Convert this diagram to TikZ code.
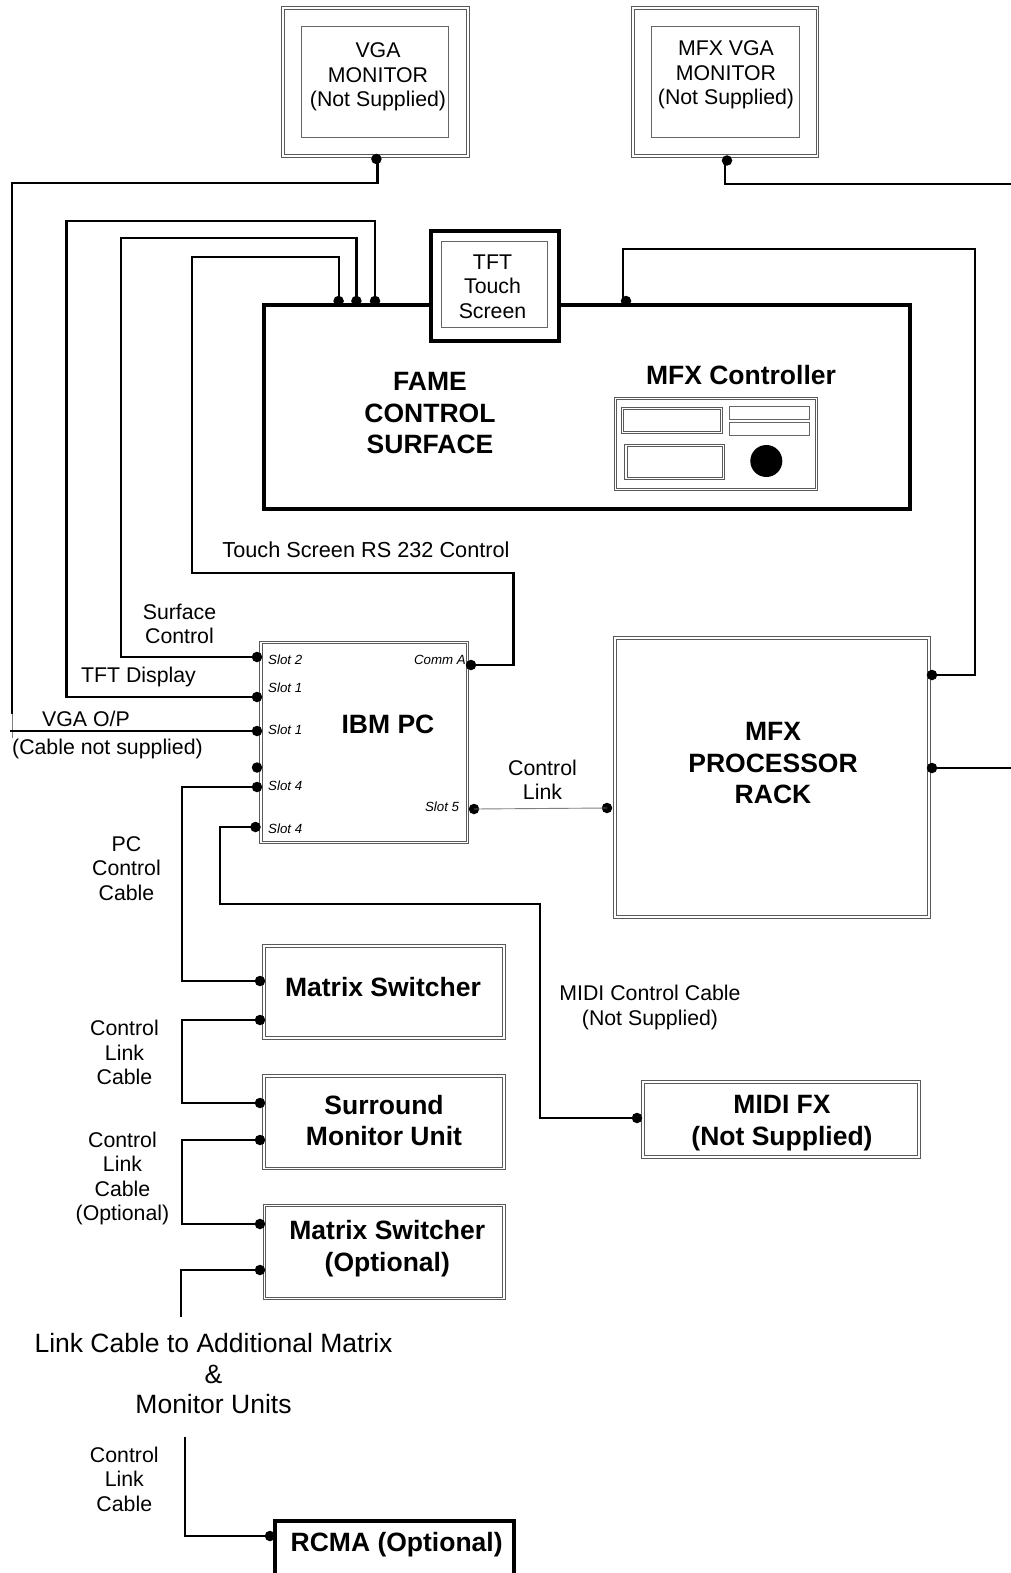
\documentclass[tikz,border=0pt]{standalone}
\usepackage{fontspec}
\setmainfont{Liberation Sans}
\usepackage{tikz}
\begin{document}
\begin{tikzpicture}[x=1pt, y=-1pt,
  dblbox/.style={rectangle, outer sep=0pt, inner sep=0pt,
    append after command={\pgfextra{\let\lastbox\tikzlastnode
      \draw[draw=black!65, line width=0.9pt]
        ([shift={(-#1,-#1)}]\lastbox.south west) rectangle ([shift={(#1,#1)}]\lastbox.north east)
        ([shift={(#1,#1)}]\lastbox.south west) rectangle ([shift={(-#1,-#1)}]\lastbox.north east);}}},
  dbl/.style={dblbox=1.4pt},
  dblthin/.style={dblbox=1.1pt},
  thin box/.style={rectangle, draw=black!60, line width=0.9pt, outer sep=0pt, inner sep=0pt},
  heavy/.style={rectangle, draw=black, fill=white, line width=4pt, outer sep=0pt, inner sep=0pt},
  lbl/.style={align=center, inner sep=0pt, font=\fontsize{21.3}{24.5}\selectfont},
  big/.style={align=center, inner sep=0pt, font=\fontsize{26.5}{31.5}\selectfont\bfseries},
  slotlbl/.style={inner sep=0pt, font=\fontsize{13.3}{15}\selectfont\itshape},
  jack/.style={circle, fill=black, minimum size=10.5pt, inner sep=0pt, outer sep=0pt},
  cable/.style={draw=black, line width=2.2pt, line join=miter},
  fine/.style={draw=black, line width=1.8pt},
  ctl/.style={draw=black!50, line width=0.9pt},
]
  \clip (0,0) rectangle (1011,1573);

  % Monitors
  \node[dbl, minimum width=184.3pt, minimum height=148.4pt] (mon1) at (375.4,82) {};
  \node[thin box, minimum width=147.2pt, minimum height=111pt] (mon1in) at (375,81.5) {};
  \node[lbl] (mon1t) at (378,77) {VGA\\MONITOR\\(Not Supplied)};
  \node[dbl, minimum width=184.4pt, minimum height=148.4pt] (mon2) at (725.3,82) {};
  \node[thin box, minimum width=147.6pt, minimum height=111pt] (mon2in) at (725.5,81.5) {};
  \node[lbl] (mon2t) at (726,75) {MFX VGA\\MONITOR\\(Not Supplied)};

  % Control surface
  \node[heavy, minimum width=645.7pt, minimum height=204pt] (surf) at (587,406.8) {};
  \node[heavy, minimum width=128pt, minimum height=110pt] (tft) at (494.5,286.4) {};
  \node[thin box, minimum width=106.5pt, minimum height=85.7pt] (tftin) at (494.6,284.2) {};
  \node[lbl] (tftt) at (492.5,286.5) {TFT\\Touch\\Screen};
  \node[big] (surft) at (430,413.5) {FAME\\CONTROL\\SURFACE};
  \node[big] (ctrlt) at (741,375) {MFX Controller};

  % MFX controller panel
  \node[dblthin, minimum width=201pt, minimum height=91.5pt] (panel) at (716.15,443.85) {};
  \node[dblthin, minimum width=99pt, minimum height=24.6pt] (pa) at (672.3,420.5) {};
  \node[thin box, minimum width=80.4pt, minimum height=13.3pt] (pb) at (769.5,412.7) {};
  \node[thin box, minimum width=80.4pt, minimum height=13pt] (pc) at (769.5,428.8) {};
  \node[dblthin, minimum width=97.7pt, minimum height=33pt] (pd) at (674.7,461.7) {};
  \node[circle, fill=black, minimum size=32pt, inner sep=0pt] (knob) at (766.3,461) {};

  % IBM PC and rack
  \node[dbl, minimum width=206.7pt, minimum height=200pt] (ibm) at (364.15,742.5) {};
  \node[big] (ibmt) at (388,724) {IBM PC};
  \node[slotlbl, anchor=west] (s1) at (268,659.5) {Slot 2};
  \node[slotlbl, anchor=west] (s2) at (268,687.5) {Slot 1};
  \node[slotlbl, anchor=west] (s3) at (268,730) {Slot 1};
  \node[slotlbl, anchor=west] (s4) at (268,786) {Slot 4};
  \node[slotlbl, anchor=west] (s5) at (268,828.5) {Slot 4};
  \node[slotlbl, anchor=east] (s6) at (466,659.5) {Comm A};
  \node[slotlbl, anchor=east] (s7) at (459.3,807) {Slot 5};
  \node[dbl, minimum width=314.4pt, minimum height=279.4pt] (rack) at (772,777.5) {};
  \node[big] (rackt) at (773,763.5) {MFX\\PROCESSOR\\RACK};

  % Lower column
  \node[dbl, minimum width=239.9pt, minimum height=92.4pt] (ms1) at (383.75,992) {};
  \node[big] (ms1t) at (383,987) {Matrix Switcher};
  \node[dbl, minimum width=239.9pt, minimum height=92.9pt] (smu) at (383.75,1122) {};
  \node[big] (smut) at (384,1120.5) {Surround\\Monitor Unit};
  \node[dbl, minimum width=239.4pt, minimum height=93pt] (ms2) at (384.2,1252) {};
  \node[big] (ms2t) at (387.3,1248.5) {Matrix Switcher\\(Optional)};
  \node[dbl, minimum width=276.4pt, minimum height=74.9pt] (fx) at (781,1119.25) {};
  \node[big] (fxt) at (782,1123) {MIDI FX\\(Not Supplied)};
  \node[heavy, fill=none, minimum width=239pt, minimum height=90pt] (rcma) at (394.2,1565.5) {};
  \node[big] (rcmat) at (396.7,1545) {RCMA (Optional)};

  % Jacks
  \node[jack] (j1) at (376.4,159) {};
  \node[jack] (j2) at (727,160.5) {};
  \node[jack] (j3) at (338.6,301) {};
  \node[jack] (j4) at (356.4,301) {};
  \node[jack] (j5) at (375,301) {};
  \node[jack] (j6) at (626,301) {};
  \node[jack] (j7) at (257,657) {};
  \node[jack] (j8) at (257,697) {};
  \node[jack] (j9) at (257,731) {};
  \node[jack] (j10) at (257,767.5) {};
  \node[jack] (j11) at (257,787) {};
  \node[jack] (j12) at (255.5,827) {};
  \node[jack] (j13) at (471,665) {};
  \node[jack] (j14) at (474,809) {};
  \node[jack] (j15) at (932,675) {};
  \node[jack] (j16) at (932,768) {};
  \node[jack] (j17) at (607,808) {};
  \node[jack] (j18) at (260,981) {};
  \node[jack] (j19) at (260,1020) {};
  \node[jack] (j20) at (260,1103) {};
  \node[jack] (j21) at (260,1140) {};
  \node[jack] (j22) at (260,1224) {};
  \node[jack] (j23) at (260,1270) {};
  \node[jack] (j24) at (637,1118) {};
  \node[jack] (j25) at (270,1536) {};
  \coordinate (e1) at (12,714);
  \coordinate (e2) at (12,738);
  \coordinate (e3) at (10,731);
  \coordinate (e4) at (1011,184);
  \coordinate (e5) at (1011,768);
  \coordinate (e6) at (180.7,1316.7);
  \coordinate (e7) at (185.3,1436.7);

  % Cables
  \draw[cable] (377.5,159) |- (12,183) -- (e1);
  \draw[ctl] (e1) -- (e2);
  \draw[cable] (j9.center) -- (e3);
  \draw[cable] (725.3,160.5) |- (e4);
  \draw[cable] (j5.center) |- (66.4,221) |- (j8.center);
  \draw[cable] (j4.center) |- (121,238.3) |- (j7.center);
  \draw[cable] (j3.center) |- (192,257.3) |- (513.5,573) |- (j13.center);
  \draw[cable] (623.3,301) |- (974.7,248.8) |- (j15.center);
  \draw[cable] (j16.center) -- (e5);
  \draw[cable] (j11.center) -| (181.7,981) -- (j18.center);
  \draw[cable] (j12.center) -| (220,904.3) -| (539.6,1118) -- (j24.center);
  \draw[ctl] (j14.center) -- (j17.center);
  \draw[cable] (j19.center) -| (181.7,1103) -- (j20.center);
  \draw[cable] (j21.center) -| (181.7,1224) -- (j22.center);
  \draw[cable] (j23.center) -| (e6);
  \draw[fine] (e7) |- (j25.center);

  % Cable labels
  \node[lbl, font=\fontsize{21.7}{24.5}\selectfont] (l1) at (366,550) {Touch Screen RS 232 Control};
  \node[lbl] (l2) at (179.5,624) {Surface\\Control};
  \node[lbl] (l3) at (138.5,677) {TFT Display};
  \node[lbl] (l4) at (86,718.5) {VGA O/P};
  \node[lbl] (l5) at (107.5,748.5) {(Cable not supplied)};
  \node[lbl] (l6) at (126.5,868.5) {PC\\Control\\Cable};
  \node[lbl] (l7) at (542.5,780) {Control\\Link};
  \node[lbl] (l8) at (650,1007.5) {MIDI Control Cable\\(Not Supplied)};
  \node[lbl] (l9) at (124.5,1052.5) {Control\\Link\\Cable};
  \node[lbl] (l10) at (122.5,1178.5) {Control\\Link\\Cable\\(Optional)};
  \node[lbl] (l11) at (124.3,1479) {Control\\Link\\Cable};
  \node[align=center, inner sep=0pt, font=\fontsize{26.5}{30.5}\selectfont] (l12) at (213.5,1374)
    {Link Cable to Additional Matrix\\\&\\Monitor Units};
\end{tikzpicture}
\end{document}
